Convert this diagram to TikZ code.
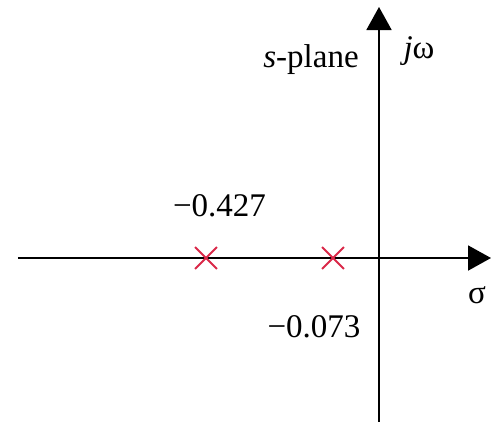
\documentclass[tikz,border=0pt]{standalone}
\usepackage{fontspec}
\setmainfont{Liberation Serif}
\usetikzlibrary{arrows.meta,shapes.misc}
\definecolor{polered}{RGB}{218,40,72}
\tikzset{
  axis/.style={line width=1.1pt, -{Triangle[width=0.5cm,length=0.46cm]}},
  pole/.style={cross out, draw=polered, line width=1.1pt, minimum size=0.4cm, inner sep=0pt},
  lbl/.style={font=\fontsize{18.8}{22}\selectfont, inner sep=0pt, anchor=base}
}
\begin{document}
\begin{tikzpicture}
\useasboundingbox (-7.58,-3.26) rectangle (2.24,5.16);
\coordinate (xl) at (-7.22,0);
\coordinate (xr) at (2.24,0);
\coordinate (yb) at (0,-3.3);
\coordinate (yt) at (0,5.02);
\draw[axis] (xl) -- (xr);
\draw[axis] (yb) -- (yt);
\node[pole] (p1) at (-3.46,0) {};
\node[pole] (p2) at (-0.92,0) {};
\node[lbl] (v1) at (-3.19,0.84) {−0.427};
\node[lbl] (v2) at (-1.30,-1.58) {−0.073};
\node[lbl] (sig) at (1.96,-0.9) {σ};
\node[lbl] (jw) at (0.8,4.0) {\textit{j}ω};
\node[lbl] (sp) at (-1.36,3.82) {\textit{s}-plane};
\end{tikzpicture}
\end{document}
